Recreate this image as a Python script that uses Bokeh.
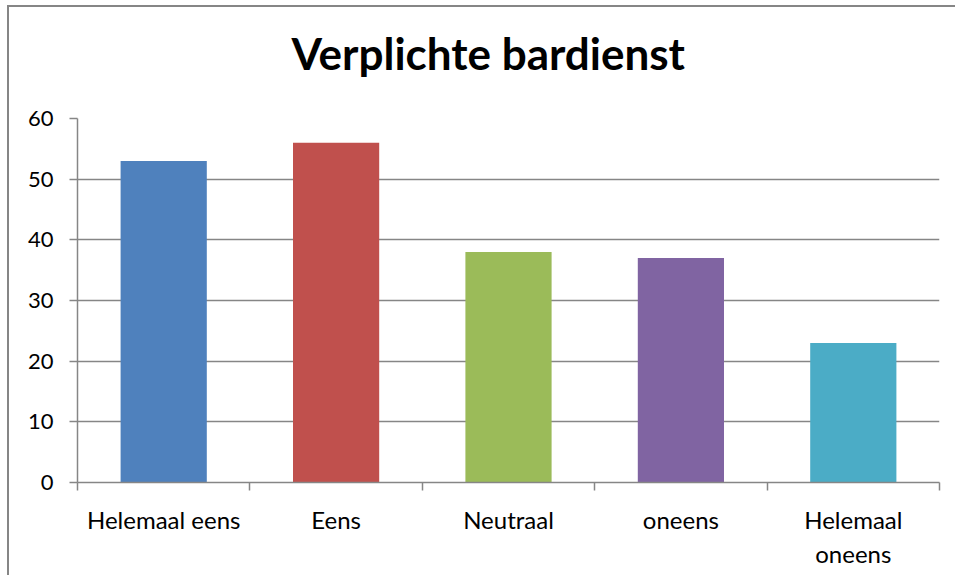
from bokeh.plotting import figure
from bokeh.models import FixedTicker, Range1d, Title
from bokeh.embed import file_html
from bokeh.resources import INLINE

categories = ["Helemaal eens", "Eens", "Neutraal", "oneens", "Helemaal\noneens"]
counts = [53, 56, 38, 37, 23]
colors = ["#4F81BD", "#C0504D", "#9BBB59", "#8064A2", "#4BACC6"]
y_ticks = [0, 10, 20, 30, 40, 50, 60]
title_text = "Verplichte bardienst"

FONT = "Lato"
GRAY = "#868686"

W, H = 948, 570
p = figure(width=W, height=H, output_backend="svg", toolbar_location=None,
           x_range=Range1d(0, len(categories)), y_range=Range1d(0, 60),
           min_border_left=68, min_border_right=18, min_border_top=111,
           min_border_bottom=95, title=None)
p.margin = (5, 0, 0, 7)
p.styles = {"border-left": "2px solid #868686", "border-top": "2px solid #868686"}
p.outline_line_color = None
p.background_fill_color = "white"
p.border_fill_color = "white"

# invisible spacer between the plot area and the title
spacer = Title(text=" ", text_font_size="1px", standoff=36, text_color="white")
p.add_layout(spacer, "above")
main_title = Title(text=title_text, align="left", offset=214, standoff=2,
                   text_font=FONT, text_font_size="44px", text_font_style="bold",
                   text_color="black")
p.add_layout(main_title, "above")

xs = [i + 0.5 for i in range(len(categories))]
p.vbar(x=xs, top=counts, bottom=0, width=0.5, fill_color=colors, line_color=None)

p.xgrid.grid_line_color = None
p.ygrid.grid_line_color = GRAY
p.ygrid.grid_line_width = 1.5
p.ygrid.ticker = FixedTicker(ticks=y_ticks)

ya = p.yaxis[0]
ya.ticker = FixedTicker(ticks=y_ticks, minor_ticks=[])
ya.axis_line_color = GRAY
ya.axis_line_width = 1.5
ya.major_tick_line_color = GRAY
ya.major_tick_line_width = 1.5
ya.major_tick_out = 8
ya.major_tick_in = 0
ya.minor_tick_line_color = None
ya.major_label_text_font = FONT
ya.major_label_text_font_size = "22px"
ya.major_label_text_color = "black"
ya.major_label_standoff = 16

xa = p.xaxis[0]
xa.ticker = FixedTicker(ticks=xs, minor_ticks=list(range(len(categories) + 1)))
xa.major_label_overrides = {x: c for x, c in zip(xs, categories)}
xa.axis_line_color = GRAY
xa.axis_line_width = 1.5
xa.major_tick_line_color = None
xa.major_tick_out = 0
xa.major_tick_in = 0
xa.minor_tick_line_color = GRAY
xa.minor_tick_line_width = 1.5
xa.minor_tick_out = 8
xa.minor_tick_in = 0
xa.major_label_text_font = FONT
xa.major_label_text_font_size = "24px"
xa.major_label_text_color = "black"
xa.major_label_standoff = 14

open("out.html", "w").write(file_html(p, INLINE))
